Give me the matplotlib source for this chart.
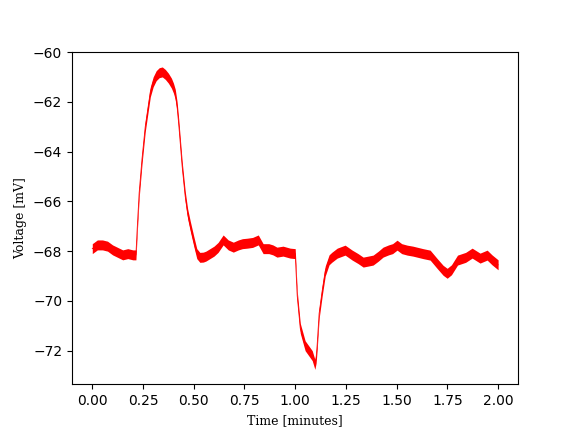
import matplotlib
matplotlib.use("Agg")
import matplotlib.pyplot as plt
import numpy as np

# Time samples [minutes] and mid-trace voltage [mV]
time_min = [0.00, 0.025, 0.05, 0.075, 0.10, 0.125, 0.15, 0.175, 0.20, 0.215,
            0.222, 0.231, 0.245, 0.261, 0.286, 0.30, 0.315, 0.33, 0.345, 0.36,
            0.375, 0.39, 0.40, 0.409, 0.418, 0.426, 0.433, 0.443, 0.458, 0.47,
            0.483, 0.50, 0.515, 0.53, 0.547, 0.56, 0.58, 0.60, 0.62, 0.645,
            0.67, 0.695, 0.72, 0.74, 0.764, 0.79, 0.818, 0.842, 0.87, 0.89,
            0.91, 0.94, 0.975, 1.00, 1.003, 1.01, 1.025, 1.049, 1.084, 1.097,
            1.103, 1.108, 1.118, 1.133, 1.148, 1.167, 1.18, 1.207, 1.246, 1.281,
            1.31, 1.335, 1.36, 1.384, 1.41, 1.433, 1.46, 1.48, 1.502, 1.525,
            1.552, 1.58, 1.60, 1.63, 1.665, 1.70, 1.729, 1.749, 1.77, 1.80,
            1.84, 1.872, 1.911, 1.946, 1.97, 2.00]
voltage_mv = [-67.9, -67.75, -67.75, -67.8, -67.95, -68.05, -68.15, -68.1, -68.15, -68.15,
              -67.0, -65.66, -64.3, -63.0, -61.6, -61.2, -60.95, -60.83, -60.8, -60.9,
              -61.05, -61.25, -61.45, -61.7, -62.2, -62.9, -63.6, -64.6, -65.8, -66.5,
              -67.0, -67.6, -68.1, -68.25, -68.24, -68.2, -68.1, -68.0, -67.85, -67.55,
              -67.75, -67.84, -67.75, -67.7, -67.68, -67.65, -67.55, -67.9, -67.9, -67.95,
              -68.04, -68.0, -68.08, -68.1, -68.6, -69.8, -71.1, -71.8, -72.2, -72.55,
              -72.3, -71.8, -70.5, -69.6, -68.8, -68.35, -68.25, -68.08, -67.96, -68.16,
              -68.3, -68.44, -68.4, -68.36, -68.2, -68.04, -67.95, -67.9, -67.76, -67.9,
              -67.96, -68.0, -68.04, -68.1, -68.16, -68.5, -68.77, -68.89, -68.75, -68.36,
              -68.25, -68.08, -68.28, -68.16, -68.35, -68.55]
# Half-thickness of the noisy band seen in the reference [mV]
noise_halfwidth_mv = 0.2

t = np.array(time_min)
v = np.array(voltage_mv)

fig, ax = plt.subplots(figsize=(5.76, 4.32), dpi=100)
ax.fill_between(t, v - noise_halfwidth_mv, v + noise_halfwidth_mv,
                color="red", linewidth=0)
ax.plot(t, v, color="red", linewidth=0.6)

ax.set_xlabel("Time [minutes]", family="DejaVu Serif", fontsize=9)
ax.set_ylabel("Voltage [mV]", family="DejaVu Serif", fontsize=9)

fig.savefig("out.png", dpi=100)
